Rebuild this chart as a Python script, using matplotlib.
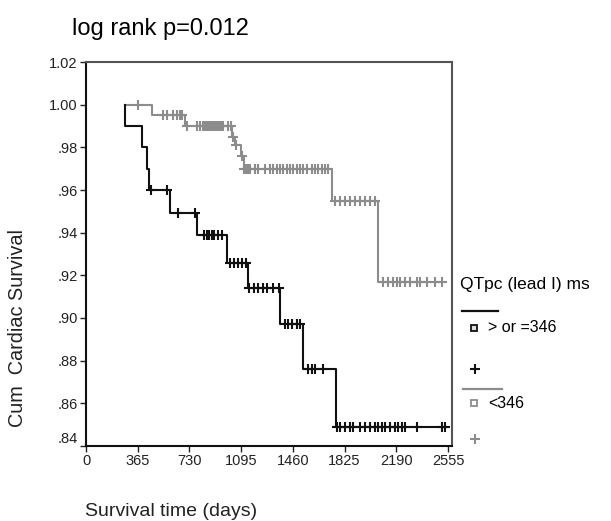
import numpy as np
import matplotlib.pyplot as plt
from matplotlib.lines import Line2D

plt.rcParams['font.family'] = ['Liberation Sans', 'DejaVu Sans']

# Kaplan-Meier steps (days, cumulative survival)
start_day = 275

hi_event_days = [275, 395, 430, 445, 593, 783, 995, 1143, 1369, 1531, 1764]
hi_surv = [0.990, 0.980, 0.970, 0.960, 0.949, 0.939, 0.926, 0.914, 0.897, 0.876, 0.849]
hi_end = 2548
hi_censored = [459, 572, 649, 769, 833, 854, 868, 889, 903, 932, 960,
               1016, 1044, 1073, 1101, 1129, 1150,
               1186, 1214, 1249, 1277, 1320, 1362,
               1404, 1426, 1454, 1489, 1510,
               1567, 1595, 1616, 1672,
               1770, 1792, 1828, 1863, 1884, 1934, 1969, 2004, 2039, 2061,
               2089, 2110, 2145, 2181, 2202, 2230, 2251, 2336, 2512, 2534]

lo_event_days = [466, 699, 1030, 1051, 1094, 1115, 1736, 2061]
lo_surv = [0.995, 0.990, 0.985, 0.981, 0.976, 0.970, 0.955, 0.917]
lo_end = 2512
lo_censored = [367, 543, 572, 614, 642, 663, 677,
               713, 783, 804, 826, 840, 854, 861, 875, 889, 896, 910, 924,
               932, 946, 960, 967, 1002, 1025, 1037, 1058, 1100,
               1118, 1129, 1136, 1143, 1157, 1193, 1214, 1263, 1298, 1320,
               1348, 1369, 1390, 1418, 1440, 1461, 1489, 1510, 1531, 1560,
               1595, 1616, 1637, 1665, 1687, 1708,
               1757, 1792, 1828, 1863, 1898, 1934, 1969, 2004, 2039,
               2096, 2131, 2166, 2195, 2216, 2251, 2287, 2336, 2357, 2406,
               2463, 2512]

x_ticks = [0, 365, 730, 1095, 1460, 1825, 2190, 2555]
y_ticks = [0.84, 0.86, 0.88, 0.90, 0.92, 0.94, 0.96, 0.98, 1.00, 1.02]
y_tick_labels = ['.84', '.86', '.88', '.90', '.92', '.94', '.96', '.98', '1.00', '1.02']

HI_COL = '#111111'
LO_COL = '#8c8c8c'


def km_curve(ax, events, surv, end, censored, color):
    xs = [start_day] + list(events) + [end]
    ys = [1.0] + list(surv) + [surv[-1]]
    ax.step(xs, ys, where='post', color=color, lw=1.5, zorder=2)
    # survival level at each censored time
    idx = np.searchsorted(events, censored, side='right')
    levels = np.concatenate([[1.0], surv])[idx]
    ax.plot(censored, levels, ls='none', marker='+', ms=6.5, mew=1.5,
            color=color, zorder=3)


fig = plt.figure(figsize=(6.11, 5.21), dpi=100)
ax = fig.add_axes([86 / 611, 1 - 446 / 521, (452 - 86) / 611, (446 - 62) / 521])

km_curve(ax, lo_event_days, lo_surv, lo_end, lo_censored, LO_COL)
km_curve(ax, hi_event_days, hi_surv, hi_end, hi_censored, HI_COL)

ax.set_xlim(0, 2583)
ax.set_ylim(0.84, 1.02)
ax.set_xticks(x_ticks)
ax.set_xticklabels([str(t) for t in x_ticks], fontsize=10.5, color='#222222')
ax.set_yticks(y_ticks)
ax.set_yticklabels(y_tick_labels, fontsize=10.5, color='#222222')
ax.get_yticklabels()[0].set_va('bottom')
ax.tick_params(direction='out', length=4, width=1, pad=2, color='#222222')

for side in ['left', 'bottom']:
    ax.spines[side].set_color('#111111')
    ax.spines[side].set_linewidth(1.5)
for side in ['top', 'right']:
    ax.spines[side].set_color('#555555')
    ax.spines[side].set_linewidth(1.5)

fig.text(72 / 611, 1 - 29 / 521, 'log rank p=0.012', fontsize=17,
         ha='left', va='center')
fig.text(18 / 611, 1 - 328 / 521, 'Cum  Cardiac Survival', fontsize=14.3,
         rotation=90, ha='center', va='center', color='#222222')
fig.text(85 / 611, 1 - 512 / 521, 'Survival time (days)', fontsize=14,
         ha='left', va='center', color='#222222')

# legend drawn by hand to the right of the plot
def fx(px):
    return px / 611


def fy(py):
    return 1 - py / 521


fig.text(fx(460), fy(285), 'QTpc (lead I) ms', fontsize=12.5, ha='left', va='center')
fig.add_artist(Line2D([fx(462), fx(498)], [fy(311), fy(311)], color=HI_COL, lw=1.6))
fig.add_artist(Line2D([fx(474)], [fy(328)], marker='s', ms=4.5, mfc='#dddddd',
                      mec=HI_COL, mew=1.3, ls='none'))
fig.text(fx(488), fy(328), '> or =346', fontsize=11.5, ha='left', va='center')
fig.add_artist(Line2D([fx(475)], [fy(369)], marker='+', ms=7, mew=1.5,
                      color=HI_COL, ls='none'))
fig.add_artist(Line2D([fx(463), fx(502)], [fy(389), fy(389)], color=LO_COL, lw=1.6))
fig.add_artist(Line2D([fx(474)], [fy(403)], marker='s', ms=4.5, mfc='white',
                      mec=LO_COL, mew=1.3, ls='none'))
fig.text(fx(488), fy(403), '<346', fontsize=11.5, ha='left', va='center')
fig.add_artist(Line2D([fx(475)], [fy(439)], marker='+', ms=7, mew=1.5,
                      color=LO_COL, ls='none'))

fig.savefig('out.png', dpi=100)
